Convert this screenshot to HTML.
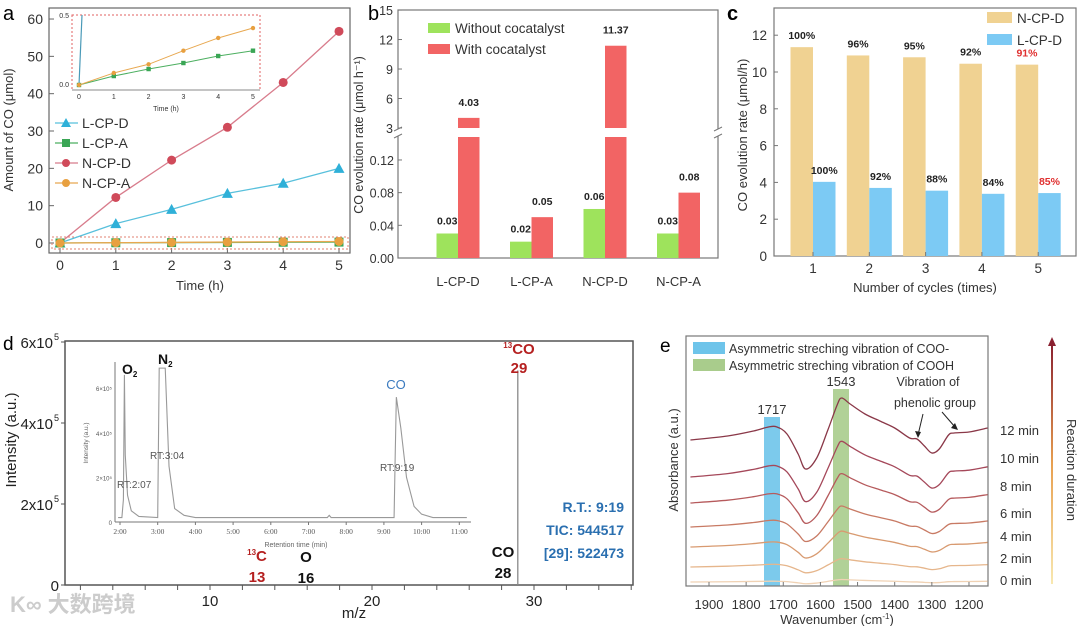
<!DOCTYPE html>
<html><head><meta charset="utf-8"><style>
html,body{margin:0;padding:0;background:#fff}
svg{display:block;font-family:"Liberation Sans","Noto Sans CJK SC",sans-serif}
</style></head><body>
<svg id="fig" width="1080" height="626" viewBox="0 0 1080 626" xmlns="http://www.w3.org/2000/svg">
<g id="pa"></g>
<g id="pb"></g>
<g id="pc"></g>
<g id="pd"></g>
<g id="pe"></g>
<text x="10" y="612" font-size="22" fill="#ccc" font-weight="bold">K∞ 大数跨境</text>
</svg>
<script>
// ---------- Panel a data ----------
const aTimes=[0,1,2,3,4,5];
const aLCPD=[0,5.2,9,13.3,16,20];
const aLCPA=[0,0.064,0.114,0.157,0.207,0.245];
const aNCPD=[0,12.2,22.2,31,43,56.7];
const aNCPA=[0,0.086,0.148,0.245,0.336,0.407];
const aYTicks=[0,10,20,30,40,50,60];
// ---------- Panel b data ----------
const bCats=['L-CP-D','L-CP-A','N-CP-D','N-CP-A'];
const bWithout=[0.03,0.02,0.06,0.03];
const bWith=[4.03,0.05,11.37,0.08];
const bLowTicks=[0,0.04,0.08,0.12];
const bLowLabels=['0.00','0.04','0.08','0.12'];
const bHighTicks=[3,6,9,12,15];
// ---------- Panel c data ----------
const cCycles=[1,2,3,4,5];
const cNCPD=[11.35,10.9,10.8,10.45,10.4];
const cLCPD=[4.03,3.7,3.55,3.38,3.42];
const cNLabels=['100%','96%','95%','92%','91%'];
const cLLabels=['100%','92%','88%','84%','85%'];
const cYTicks=[0,2,4,6,8,10,12];
// ---------- Panel d data ----------
const dXTicks=[10,20,30];
const dYTicks=[0,2,4,6];
const dPeakMz=[29];
const dPeakInt=[5.3];
const dInsetTicks=['2:00','3:00','4:00','5:00','6:00','7:00','8:00','9:00','10:00','11:00'];
const dChromT=[1.95,2.05,2.09,2.117,2.14,2.2,2.3,2.5,3.0,3.04,3.06,3.2,3.3,3.45,3.7,4.0,7.5,7.55,7.6,9.27,9.3,9.33,9.45,9.6,9.8,10.0,10.3,11.2];
const dChromI=[0.2,0.2,1,6.6,3,1.2,0.5,0.25,0.2,6.9,6.9,6.9,2.5,0.6,0.3,0.2,0.2,0.3,0.2,0.2,3,5.6,4.2,2,0.7,0.35,0.2,0.2];
// ---------- Panel e data ----------
const eWn=[1950,1850,1780,1740,1717,1690,1660,1640,1610,1580,1555,1543,1520,1480,1440,1400,1360,1340,1320,1300,1280,1255,1240,1200,1150];
const eShape=[0,4,9,13,13,6,-14,-29,-18,10,35,42,36,26,19,12,2,1,-6,-13,-9,5,7,8,12];
const eTimes=['12 min','10 min','8 min','6 min','4 min','2 min','0 min'];
const eAmp=[1,0.85,0.7,0.5,0.38,0.2,0.06];
const eXTicks=[1900,1800,1700,1600,1500,1400,1300,1200];

const NS='http://www.w3.org/2000/svg';
function mk(p,tag,at,txt){const e=document.createElementNS(NS,tag);for(const k in at)e.setAttribute(k,at[k]);if(txt!==undefined)e.textContent=txt;p.appendChild(e);return e;}
function smooth(pts){let d='M'+pts[0][0]+','+pts[0][1];for(let i=0;i<pts.length-1;i++){const p0=pts[Math.max(0,i-1)],p1=pts[i],p2=pts[i+1],p3=pts[Math.min(pts.length-1,i+2)];const c1x=p1[0]+(p2[0]-p0[0])/6,c1y=p1[1]+(p2[1]-p0[1])/6,c2x=p2[0]-(p3[0]-p1[0])/6,c2y=p2[1]-(p3[1]-p1[1])/6;d+=` C${c1x},${c1y} ${c2x},${c2y} ${p2[0]},${p2[1]}`;}return d;}

// ===== Panel A =====
(function(){
const g=document.getElementById('pa');
const X=t=>60+t*55.8, Y=v=>243-v*3.733;
let e=mk(g,'text',{x:3,y:20,'font-size':20},'a');


e=mk(g,'rect',{x:49,y:8,width:301,height:245,fill:'none',stroke:'#666','stroke-width':1.2});


aYTicks.forEach(v=>{e=mk(g,'text',{x:43,y:Y(v)+5,'font-size':14,'text-anchor':'end',fill:'#333'},v);


mk(g,'line',{x1:49,x2:54,y1:Y(v),y2:Y(v),stroke:'#666'});});
aTimes.forEach(t=>{e=mk(g,'text',{x:X(t),y:270,'font-size':14,'text-anchor':'middle',fill:'#333'},t);


mk(g,'line',{x1:X(t),x2:X(t),y1:253,y2:248,stroke:'#666'});});
e=mk(g,'text',{x:200,y:290,'font-size':13,'text-anchor':'middle',fill:'#333'},'Time (h)');


e=mk(g,'text',{x:0,y:0,'font-size':13,'text-anchor':'middle',fill:'#333',transform:'translate(13,130) rotate(-90)'},'Amount of CO (μmol)');


e=mk(g,'rect',{x:52,y:237,width:296,height:12,fill:'none',stroke:'#e08070','stroke-width':1,'stroke-dasharray':'2,2'});


const series=[[aNCPD,'#d87c8c','#d04a5a','c','N-CP-D'],[aLCPD,'#58c0dc','#2fb0d8','t','L-CP-D'],[aLCPA,'#4caf60','#3aa655','s','L-CP-A'],[aNCPA,'#e8a850','#e8a040','c','N-CP-A']];
function marker(p,x,y,sh,c,r){if(sh==='c')return mk(p,'circle',{cx:x,cy:y,r:r,fill:c});if(sh==='s')return mk(p,'rect',{x:x-r,y:y-r,width:2*r,height:2*r,fill:c});return mk(p,'polygon',{points:`${x},${y-r-1} ${x-r-1},${y+r} ${x+r+1},${y+r}`,fill:c});}
series.forEach(s=>{const pts=aTimes.map((t,i)=>[X(t),Y(s[0][i])]);
e=mk(g,'polyline',{points:pts.map(p=>p.join(',')).join(' '),fill:'none',stroke:s[1],'stroke-width':1.3});


pts.forEach(p=>{e=marker(g,p[0],p[1],s[3],s[2],4.5);

});});
[['L-CP-D','#58c0dc','#2fb0d8','t'],['L-CP-A','#4caf60','#3aa655','s'],['N-CP-D','#d87c8c','#d04a5a','c'],['N-CP-A','#e8a850','#e8a040','c']].forEach((l,i)=>{const y=123+i*20;
mk(g,'line',{x1:55,x2:78,y1:y,y2:y,stroke:l[1],'stroke-width':1.3});marker(g,66,y,l[3],l[2],4);
e=mk(g,'text',{x:82,y:y+5,'font-size':14,fill:'#333'},l[0]);

});
const IX=t=>79+t*34.8, IY=v=>85-v*140;
e=mk(g,'rect',{x:72,y:15,width:188,height:75,fill:'#fff',stroke:'#e06060','stroke-width':1,'stroke-dasharray':'2,2'});


mk(g,'line',{x1:72,x2:260,y1:90,y2:90,stroke:'#888'});
aTimes.forEach(t=>{mk(g,'text',{x:IX(t),y:99,'font-size':7,'text-anchor':'middle',fill:'#333'},t);});
mk(g,'text',{x:69,y:87,'font-size':7,'text-anchor':'end',fill:'#333'},'0.0');
mk(g,'text',{x:69,y:18,'font-size':7,'text-anchor':'end',fill:'#333'},'0.5');
mk(g,'text',{x:166,y:111,'font-size':7,'text-anchor':'middle',fill:'#333'},'Time (h)');
mk(g,'line',{x1:IX(0),y1:IY(0),x2:IX(0)+3,y2:15,stroke:'#4a9ab8','stroke-width':1.2});
[[aLCPA,'#4caf60','#3aa655','s'],[aNCPA,'#e8a850','#e8a040','c']].forEach(s=>{const pts=aTimes.map((t,i)=>[IX(t),IY(s[0][i])]);
e=mk(g,'polyline',{points:pts.map(p=>p.join(',')).join(' '),fill:'none',stroke:s[1],'stroke-width':1});


pts.forEach(p=>marker(g,p[0],p[1],s[3],s[2],2.2));});
})();

// ===== Panel B =====
(function(){
const g=document.getElementById('pb');
const YH=v=>128-(v-3)*9.83, YL=v=>258-v*817;
const C=i=>458+i*73.5;
let e=mk(g,'text',{x:368,y:20,'font-size':20},'b');


e=mk(g,'rect',{x:398,y:10,width:320,height:248,fill:'none',stroke:'#777','stroke-width':1.2});


mk(g,'rect',{x:393,y:129,width:330,height:7,fill:'#fff'});
[[398],[718]].forEach(p=>{mk(g,'line',{x1:p[0]-4,y1:131,x2:p[0]+4,y2:127,stroke:'#777'});mk(g,'line',{x1:p[0]-4,y1:138,x2:p[0]+4,y2:134,stroke:'#777'});});
bHighTicks.forEach(v=>{e=mk(g,'text',{x:393,y:YH(v)+5,'font-size':12.5,'text-anchor':'end',fill:'#333'},v);


mk(g,'line',{x1:398,x2:402,y1:YH(v),y2:YH(v),stroke:'#777'});});
bLowTicks.forEach((v,i)=>{e=mk(g,'text',{x:394,y:YL(v)+5,'font-size':12.5,'text-anchor':'end',fill:'#333'},bLowLabels[i]);


mk(g,'line',{x1:398,x2:402,y1:YL(v),y2:YL(v),stroke:'#777'});});
e=mk(g,'text',{x:0,y:0,'font-size':12.5,'text-anchor':'middle',fill:'#333',transform:'translate(363,135) rotate(-90)'},'CO evolution rate  (μmol h⁻¹)');


const bw=21.5;
bCats.forEach((c,i)=>{const x=C(i);
e=mk(g,'rect',{x:x-bw,y:YL(bWithout[i]),width:bw,height:258-YL(bWithout[i]),fill:'#9ee35c'});


e=mk(g,'text',{x:x-bw/2,y:YL(bWithout[i])-9,'font-size':10.5,'font-weight':'bold','text-anchor':'middle',fill:'#222'},bWithout[i].toFixed(2));


const v=bWith[i];let top;
if(v>3){top=YH(v);
e=mk(g,'rect',{x:x,y:137,width:bw,height:121,fill:'#f26464'});


e=mk(g,'rect',{x:x,y:top,width:bw,height:128-top,fill:'#f26464'});

}
else{top=YL(v);
e=mk(g,'rect',{x:x,y:top,width:bw,height:258-top,fill:'#f26464'});

}
e=mk(g,'text',{x:x+bw/2,y:top-12,'font-size':10.5,'font-weight':'bold','text-anchor':'middle',fill:'#222'},v.toFixed(2));


e=mk(g,'text',{x:x,y:286,'font-size':13,'text-anchor':'middle',fill:'#333'},c);

});
[['Without cocatalyst','#9ee35c',23],['With cocatalyst','#f26464',44]].forEach(l=>{mk(g,'rect',{x:428,y:l[2],width:22,height:10,fill:l[1]});
e=mk(g,'text',{x:455,y:l[2]+10,'font-size':13.5,fill:'#333'},l[0]);

});
})();

// ===== Panel C =====
(function(){
const g=document.getElementById('pc');
const Y=v=>256-v*18.4, C=i=>813+(i-1)*56.3;
let e=mk(g,'text',{x:727,y:20,'font-size':20,'font-weight':'bold'},'c');


e=mk(g,'rect',{x:774,y:8,width:302,height:248,fill:'none',stroke:'#777','stroke-width':1.2});


cYTicks.forEach(v=>{e=mk(g,'text',{x:767,y:Y(v)+5,'font-size':13.5,'text-anchor':'end',fill:'#333'},v);


mk(g,'line',{x1:774,x2:778,y1:Y(v),y2:Y(v),stroke:'#777'});});
e=mk(g,'text',{x:0,y:0,'font-size':13,'text-anchor':'middle',fill:'#333',transform:'translate(747,135) rotate(-90)'},'CO evolution rate  (μmol/h)');


const bw=22.5;
cCycles.forEach((c,i)=>{const x=C(c);
e=mk(g,'rect',{x:x-bw,y:Y(cNCPD[i]),width:bw,height:256-Y(cNCPD[i]),fill:'#f0d292'});


e=mk(g,'rect',{x:x,y:Y(cLCPD[i]),width:bw,height:256-Y(cLCPD[i]),fill:'#7ccaf4'});


e=mk(g,'text',{x:x-bw/2,y:Y(cNCPD[i])-8,'font-size':10.5,'font-weight':'bold','text-anchor':'middle',fill:i===4?'#e03030':'#222'},cNLabels[i]);


e=mk(g,'text',{x:x+bw/2,y:Y(cLCPD[i])-8,'font-size':10.5,'font-weight':'bold','text-anchor':'middle',fill:i===4?'#e03030':'#222'},cLLabels[i]);


e=mk(g,'text',{x:x,y:273,'font-size':13.5,'text-anchor':'middle',fill:'#333'},c);


mk(g,'line',{x1:x,x2:x,y1:256,y2:252,stroke:'#777'});});
e=mk(g,'text',{x:925,y:292,'font-size':13,'text-anchor':'middle',fill:'#333'},'Number of cycles (times)');


[['N-CP-D','#f0d292',12],['L-CP-D','#7ccaf4',34]].forEach(l=>{mk(g,'rect',{x:987,y:l[2],width:25,height:11,fill:l[1]});
e=mk(g,'text',{x:1017,y:l[2]+11,'font-size':13.5,fill:'#333'},l[0]);

});
})();

// ===== Panel D =====
(function(){
const g=document.getElementById('pd');
const X=m=>48+m*16.2, Y=v=>585-v*40.5;
let e=mk(g,'text',{x:3,y:350,'font-size':19},'d');


e=mk(g,'rect',{x:65,y:341,width:568,height:244,fill:'none',stroke:'#555','stroke-width':1.5});


dYTicks.forEach(v=>{const t=v===0?'0':v+'x10';e=mk(g,'text',{x:v===0?59:53,y:Y(v)+6,'font-size':15,'text-anchor':'end',fill:'#222'},t);


if(v)mk(g,'text',{x:54,y:Y(v)-2,'font-size':9,fill:'#222'},'5');
mk(g,'line',{x1:61,x2:65,y1:Y(v),y2:Y(v),stroke:'#555'});});
for(let m=2;m<=36;m+=2){if(X(m)<633)mk(g,'line',{x1:X(m),x2:X(m),y1:585,y2:590,stroke:'#555'});}
dXTicks.forEach(m=>{e=mk(g,'text',{x:X(m),y:606,'font-size':15,'text-anchor':'middle',fill:'#222'},m);

});
e=mk(g,'text',{x:354,y:618,'font-size':15,'text-anchor':'middle',fill:'#222'},'m/z');


e=mk(g,'text',{x:0,y:0,'font-size':15,'text-anchor':'middle',fill:'#222',transform:'translate(16,440) rotate(-90)'},'Intensity (a.u.)');


dPeakMz.forEach((m,i)=>{e=mk(g,'line',{x1:X(m),x2:X(m),y1:585,y2:Y(dPeakInt[i]),stroke:'#888','stroke-width':1.3});

});
const lab=(x,y,t,c,sup)=>{const el=mk(g,'text',{x:x,y:y,'font-size':15,'font-weight':'bold','text-anchor':'middle',fill:c});if(sup){mk(el,'tspan',{'font-size':8,dy:-6},sup);mk(el,'tspan',{dy:6},t);}else el.textContent=t;return el;};
e=lab(519,354,'CO','#b52020','13');
lab(519,373,'29','#b52020');
e=lab(503,557,'CO','#111');
lab(503,578,'28','#111');
e=lab(257,561,'C','#b52020','13');
lab(257,582,'13','#b52020');
e=lab(306,562,'O','#111');
lab(306,583,'16','#111');
['R.T.: 9:19','TIC: 544517','[29]: 522473'].forEach((t,i)=>{e=mk(g,'text',{x:624,y:512+i*23,'font-size':14,'font-weight':'bold','text-anchor':'end',fill:'#2a6fb0'},t);

});
const IX=t=>120+(t-2)*37.7, IY=v=>522-v*22.3;
mk(g,'line',{x1:115,x2:471,y1:522,y2:522,stroke:'#777'});
mk(g,'line',{x1:115,x2:115,y1:362,y2:522,stroke:'#777'});
dInsetTicks.forEach((t,i)=>{mk(g,'line',{x1:IX(2+i),x2:IX(2+i),y1:522,y2:525,stroke:'#777'});
mk(g,'text',{x:IX(2+i),y:534,'font-size':7.5,'text-anchor':'middle',fill:'#555','font-family':'Liberation Serif'},t);});
[[0,'0'],[2,'2×10⁵'],[4,'4×10⁵'],[6,'6×10⁵']].forEach(p=>{mk(g,'text',{x:112,y:IY(p[0])+3,'font-size':6,'text-anchor':'end',fill:'#555'},p[1]);});
mk(g,'text',{x:296,y:547,'font-size':7,'text-anchor':'middle',fill:'#666'},'Retention time (min)');
mk(g,'text',{x:0,y:0,'font-size':6.5,'text-anchor':'middle',fill:'#666',transform:'translate(88,443) rotate(-90)'},'Intensity (a.u.)');
e=mk(g,'polyline',{points:dChromT.map((t,i)=>IX(t)+','+IY(dChromI[i])).join(' '),fill:'none',stroke:'#999','stroke-width':1.1});


e=mk(g,'text',{x:122,y:374,'font-size':14,'font-weight':'bold',fill:'#111'},'O');mk(e,'tspan',{'font-size':8,dy:3},'2');

e=mk(g,'text',{x:158,y:364,'font-size':14,'font-weight':'bold',fill:'#111'},'N');mk(e,'tspan',{'font-size':8,dy:3},'2');

e=mk(g,'text',{x:396,y:389,'font-size':13,'text-anchor':'middle',fill:'#3a7abf'},'CO');

mk(g,'text',{x:117,y:488,'font-size':10,fill:'#555'},'RT:2:07');
mk(g,'text',{x:150,y:459,'font-size':10,fill:'#555'},'RT:3:04');
mk(g,'text',{x:380,y:471,'font-size':10,fill:'#555'},'RT:9:19');
})();

// ===== Panel E =====
(function(){
const g=document.getElementById('pe');
const X=w=>709+(1900-w)*0.3714;
const offs=[440,477,503,527,547,567,582];
const cols=['#8a3848','#a5485a','#b65a5c','#c87a64','#d89a70','#e6b68c','#f0d2b4'];
let e=mk(g,'text',{x:660,y:352,'font-size':19},'e');


e=mk(g,'rect',{x:764,y:417,width:16,height:169,fill:'#6ec4ea','opacity':0.9});

e=mk(g,'rect',{x:833,y:389,width:16,height:197,fill:'#a9cc8c','opacity':0.9});

e=mk(g,'rect',{x:686,y:336,width:302,height:250,fill:'none',stroke:'#777','stroke-width':1.2});

eTimes.forEach((t,k)=>{const pts=eWn.map((w,i)=>[X(w),offs[k]-eShape[i]*eAmp[k]]).filter(p=>p[0]>=686&&p[0]<=988);
e=mk(g,'path',{d:smooth(pts),fill:'none',stroke:cols[k],'stroke-width':1.3});


const ly=[430,458,486,513,536,558,580][k];
e=mk(g,'text',{x:1000,y:ly+5,'font-size':13,fill:'#333'},t);

});
eXTicks.forEach(w=>{mk(g,'line',{x1:X(w),x2:X(w),y1:586,y2:582,stroke:'#777'});
e=mk(g,'text',{x:X(w),y:609,'font-size':13,'text-anchor':'middle',fill:'#333'},w);

});
e=mk(g,'text',{x:837,y:624,'font-size':13,'text-anchor':'middle',fill:'#333'},'Wavenumber (cm');mk(e,'tspan',{'font-size':8,dy:-5},'-1');mk(e,'tspan',{dy:5},')');

e=mk(g,'text',{x:0,y:0,'font-size':13,'text-anchor':'middle',fill:'#333',transform:'translate(678,460) rotate(-90)'},'Absorbance (a.u.)');

mk(g,'rect',{x:693,y:342,width:32,height:12,fill:'#6ec4ea'});
mk(g,'rect',{x:693,y:359,width:32,height:12,fill:'#a9cc8c'});
e=mk(g,'text',{x:729,y:353,'font-size':12.5,fill:'#333'},'Asymmetric streching vibration of COO-');

e=mk(g,'text',{x:729,y:370,'font-size':12.5,fill:'#333'},'Asymmetric streching vibration of COOH');

mk(g,'text',{x:772,y:414,'font-size':13,'text-anchor':'middle',fill:'#333'},'1717');
mk(g,'text',{x:841,y:386,'font-size':13,'text-anchor':'middle',fill:'#333'},'1543');
mk(g,'text',{x:928,y:386,'font-size':12.5,'text-anchor':'middle',fill:'#333'},'Vibration of');
mk(g,'text',{x:935,y:407,'font-size':12.5,'text-anchor':'middle',fill:'#333'},'phenolic group');
mk(g,'line',{x1:923,y1:414,x2:918,y2:435,stroke:'#222'});mk(g,'polygon',{points:'918,438 915,431 921,432',fill:'#222'});
mk(g,'line',{x1:942,y1:412,x2:955,y2:427,stroke:'#222'});mk(g,'polygon',{points:'958,430 951,428 955,423',fill:'#222'});
const defs=mk(g,'defs',{});const lg=mk(defs,'linearGradient',{id:'arr',x1:0,y1:1,x2:0,y2:0});
mk(lg,'stop',{offset:0,'stop-color':'#f8e8b0'});mk(lg,'stop',{offset:0.5,'stop-color':'#e8a050'});mk(lg,'stop',{offset:1,'stop-color':'#8a2030'});
e=mk(g,'rect',{x:1051,y:344,width:2,height:240,fill:'url(#arr)'});

mk(g,'polygon',{points:'1052,337 1048,346 1056,346',fill:'#8a2030'});
e=mk(g,'text',{x:0,y:0,'font-size':13,'text-anchor':'middle',fill:'#333',transform:'translate(1067,470) rotate(90)'},'Reaction duration');

})();
</script>
</body></html>
